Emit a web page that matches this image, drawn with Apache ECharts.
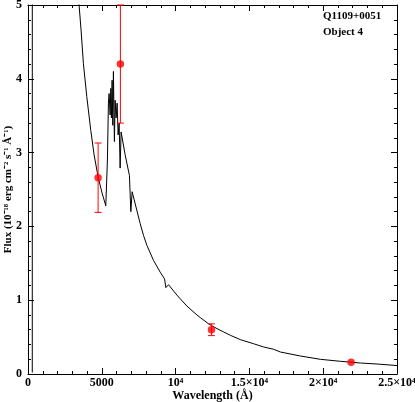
<!DOCTYPE html>
<html>
<head>
<meta charset="utf-8">
<script src="https://cdn.jsdelivr.net/npm/echarts@6/dist/echarts.min.js"></script>
<style>
  html, body { margin: 0; padding: 0; background: #fff; }
  #show { width: 415px; height: 402px; }
</style>
</head>
<body>
<div id="show"></div>
<script>
// model spectrum (wavelength in A, flux in 1e-18 erg/cm2/s/A)
var modelWave = [290, 330, 1000, 2000, 3000, 3460, 3596, 3752, 3982, 4254, 4478, 4749, 5020, 5271,
  5380, 5448, 5495, 5563, 5611, 5651, 5699, 5746, 5787, 5855, 5902, 5970, 6038, 6106, 6174, 6242, 6309,
  6581, 6872, 6967, 7056, 7598, 7823, 8053, 8501, 8955, 9250, 9342, 9520, 10088, 10766, 11445, 11669,
  12232, 12802, 13250, 13704, 14383, 15288, 15966, 16645, 17097, 18453, 19810, 21167, 22524, 23881, 25014];
var modelFlux = [0.02, 120, 45, 14, 6.6, 5.00, 4.66, 4.21, 3.76, 3.30, 2.97, 2.67, 2.45, 2.28,
  2.90, 3.67, 3.80, 3.51, 3.87, 3.47, 3.98, 3.37, 4.10, 3.15, 3.71, 3.47, 3.67, 3.24, 3.40, 2.79, 3.28,
  2.97, 2.69, 2.20, 2.47, 2.04, 1.88, 1.745, 1.54, 1.38, 1.29, 1.17, 1.21, 1.07, 0.92, 0.80, 0.765,
  0.68, 0.615, 0.57, 0.525, 0.466, 0.41, 0.366, 0.335, 0.298, 0.244, 0.199, 0.172, 0.149, 0.132, 0.114];

// photometric points
var obsWave = [4750, 6260, 12430, 21890];
var obsFlux = [2.66, 4.20, 0.60, 0.16];
var obsErr = [0.47, 0.80, 0.08, 0];

var xTickLabels = ['0', '5000', '10\u2074', '1.5\u00d710\u2074', '2\u00d710\u2074', '2.5\u00d710\u2074'];
var yTickLabels = ['0', '1', '2', '3', '4', '5'];

var font = 'Liberation Serif';

var lineData = [];
for (var i = 0; i < modelWave.length; i++) lineData.push([modelWave[i], modelFlux[i]]);
var pointData = [];
var errData = [];
for (var j = 0; j < obsWave.length; j++) {
  pointData.push([obsWave[j], obsFlux[j]]);
  if (obsErr[j] > 0) errData.push([obsWave[j], obsFlux[j] - obsErr[j], obsFlux[j] + obsErr[j]]);
}

function axisBase(pos, showLabel) {
  return {
    type: 'value',
    position: pos,
    axisLine: { show: true, onZero: false, lineStyle: { color: '#000', width: 1 } },
    axisTick: { show: true, inside: true, length: 6, lineStyle: { color: '#000', width: 1 } },
    minorTick: { show: true, splitNumber: 5, length: 3, lineStyle: { color: '#000', width: 1 } },
    splitLine: { show: false },
    axisLabel: { show: showLabel, color: '#000', fontFamily: font, fontWeight: 'bold', fontSize: 12 }
  };
}

var xBottom = axisBase('bottom', true);
xBottom.min = 0; xBottom.max = 25000; xBottom.interval = 5000;
xBottom.axisLabel.margin = 3;
xBottom.axisLabel.formatter = function (v) { return xTickLabels[Math.round(v / 5000)]; };
xBottom.name = 'Wavelength (\u00c5)';
xBottom.nameLocation = 'middle';
xBottom.nameGap = 16;
xBottom.nameMoveOverlap = false;
xBottom.nameTextStyle = { color: '#000', fontFamily: font, fontWeight: 'bold', fontSize: 12 };
var xTop = axisBase('top', false);
xTop.min = 0; xTop.max = 25000; xTop.interval = 5000;

var yLeft = axisBase('left', true);
yLeft.min = 0; yLeft.max = 5; yLeft.interval = 1;
yLeft.axisLabel.margin = 6;
yLeft.axisLabel.formatter = function (v) { return yTickLabels[Math.round(v)]; };
yLeft.name = 'Flux (10\u207b\u00b9\u2078 erg cm\u207b\u00b2 s\u207b\u00b9 \u00c5\u207b\u00b9)';
yLeft.nameLocation = 'middle';
yLeft.nameGap = 14;
yLeft.nameMoveOverlap = false;
yLeft.nameTextStyle = { color: '#000', fontFamily: font, fontWeight: 'bold', fontSize: 11 };
var yRight = axisBase('right', false);
yRight.min = 0; yRight.max = 5; yRight.interval = 1;

var myChart = echarts.init(document.getElementById('show'));
myChart.setOption({
  animation: false,
  grid: { left: 28, right: 18, top: 5, bottom: 28, containLabel: false, outerBoundsMode: 'none' },
  xAxis: [xBottom, xTop],
  yAxis: [yLeft, yRight],
  graphic: [
    { type: 'text', left: 323, top: 11, style: { text: 'Q1109+0051', fill: '#000', font: 'bold 11px "Liberation Serif"' } },
    { type: 'text', left: 323, top: 27, style: { text: 'Object 4', fill: '#000', font: 'bold 11px "Liberation Serif"' } }
  ],
  series: [
    {
      name: 'model',
      type: 'line',
      data: lineData,
      showSymbol: false,
      clip: true,
      lineStyle: { color: '#000', width: 1 },
      z: 2
    },
    {
      name: 'err',
      type: 'custom',
      data: errData,
      z: 3,
      renderItem: function (params, api) {
        var x = api.value(0);
        var lo = api.coord([x, api.value(1)]);
        var hi = api.coord([x, api.value(2)]);
        var w = 3.5;
        var st = { stroke: '#ff0000', lineWidth: 1 };
        return {
          type: 'group',
          children: [
            { type: 'line', shape: { x1: lo[0], y1: lo[1], x2: hi[0], y2: hi[1] }, style: st },
            { type: 'line', shape: { x1: lo[0] - w, y1: lo[1], x2: lo[0] + w, y2: lo[1] }, style: st },
            { type: 'line', shape: { x1: hi[0] - w, y1: hi[1], x2: hi[0] + w, y2: hi[1] }, style: st }
          ]
        };
      }
    },
    {
      name: 'obs',
      type: 'scatter',
      data: pointData,
      symbol: 'circle',
      symbolSize: 7.5,
      itemStyle: { color: '#ff0000' },
      z: 4
    }
  ]
});
</script>
</body>
</html>
